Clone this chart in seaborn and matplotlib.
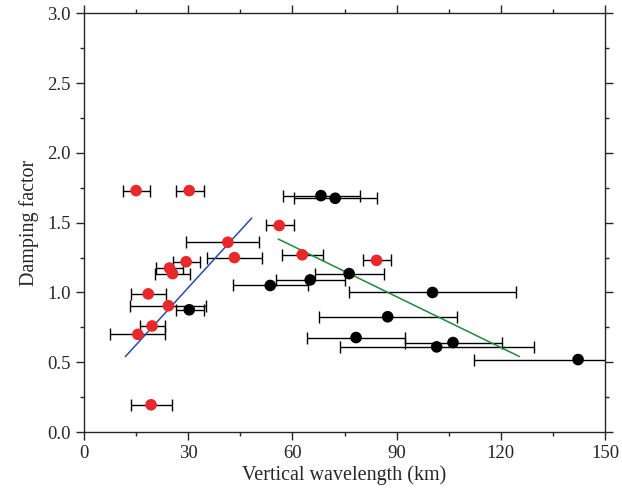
import seaborn as sns
import pandas as pd
import matplotlib.pyplot as plt
from matplotlib.ticker import MultipleLocator

# 빨간 점 (red group)
red_x = [15.0, 30.3, 41.4, 43.3, 29.4, 24.6, 25.5, 18.5, 24.3, 19.6, 15.5, 19.3, 56.2, 62.8, 84.2]
red_y = [1.73, 1.73, 1.36, 1.25, 1.22, 1.175, 1.135, 0.99, 0.905, 0.76, 0.70, 0.195, 1.48, 1.27, 1.23]
red_lo = [11.1, 26.5, 29.4, 35.3, 25.7, 20.7, 20.5, 13.5, 13.3, 16.2, 7.5, 13.5, 52.4, 56.9, 80.4]
red_hi = [19.1, 34.5, 50.5, 51.3, 33.4, 28.6, 30.6, 23.6, 35.1, 23.3, 23.4, 25.3, 60.3, 68.7, 88.4]

# 검은 점 (black group)
blk_x = [30.3, 68.2, 72.3, 53.6, 65.1, 76.3, 100.3, 87.4, 78.3, 106.2, 101.5, 142.2]
blk_y = [0.876, 1.694, 1.675, 1.05, 1.09, 1.135, 1.0, 0.826, 0.677, 0.641, 0.61, 0.519]
blk_lo = [26.5, 57.4, 60.4, 42.8, 55.3, 66.5, 76.4, 67.5, 64.3, 92.4, 73.7, 112.3]
blk_hi = [34.5, 79.4, 84.3, 64.6, 75.2, 86.4, 124.4, 107.4, 92.4, 120.3, 129.6, 172.0]

# 추세선
blue_x = [11.9, 48.3]
blue_y = [0.54, 1.534]
green_x = [55.9, 125.3]
green_y = [1.383, 0.541]

red = pd.DataFrame({"x": red_x, "y": red_y, "lo": red_lo, "hi": red_hi})
blk = pd.DataFrame({"x": blk_x, "y": blk_y, "lo": blk_lo, "hi": blk_hi})

sns.set_style("ticks")
plt.rcParams["font.family"] = ["Liberation Serif", "DejaVu Serif"]

fig = plt.figure(figsize=(6.22, 4.96), dpi=100)
ax = fig.add_axes([0.135, 0.129, 0.838, 0.844])

for df in (blk, red):
    ax.errorbar(df["x"], df["y"], xerr=[df["x"] - df["lo"], df["hi"] - df["x"]],
                fmt="none", ecolor="black", elinewidth=1.0, capsize=4, capthick=1.0, zorder=2)

sns.lineplot(x=blue_x, y=blue_y, color="#2b4ba8", linewidth=1.1, ax=ax, zorder=3)
sns.lineplot(x=green_x, y=green_y, color="#1d8a3c", linewidth=1.1, ax=ax, zorder=3)

sns.scatterplot(data=blk, x="x", y="y", color="black", s=70, edgecolor="none", ax=ax, zorder=4)
sns.scatterplot(data=red, x="x", y="y", color="#e8282a", s=70, edgecolor="none", ax=ax, zorder=4)

ax.set_xlim(0, 150)
ax.set_ylim(0, 3.0)
ax.xaxis.set_major_locator(MultipleLocator(30))
ax.xaxis.set_minor_locator(MultipleLocator(15))
ax.yaxis.set_major_locator(MultipleLocator(0.5))
ax.yaxis.set_minor_locator(MultipleLocator(0.25))
ax.yaxis.set_major_formatter(plt.FormatStrFormatter("%.1f"))
ax.tick_params(which="both", direction="out", top=True, right=True, labelsize=13.5)
ax.tick_params(which="major", length=6, width=1)
ax.tick_params(which="minor", length=3, width=1)
for s in ax.spines.values():
    s.set_linewidth(1.0)

ax.set_xlabel("Vertical wavelength (km)", fontsize=14.5, labelpad=2)
ax.set_ylabel("Damping factor", fontsize=14.5, labelpad=6)

plt.savefig("out.png", dpi=100)
